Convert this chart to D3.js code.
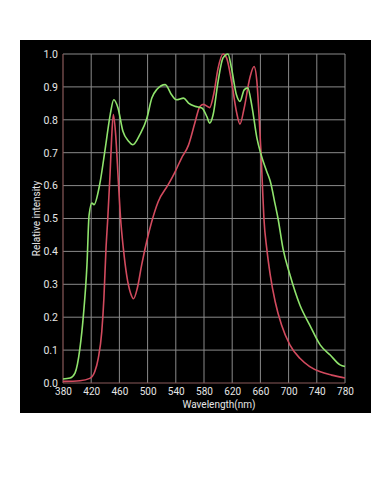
<!DOCTYPE html>
<html>
<head>
<meta charset="utf-8">
<script src="https://cdn.jsdelivr.net/npm/d3@7"></script>
<style>
  body { margin: 0; background: #fff; }
  svg text { font-family: Roboto, "Noto Sans", sans-serif; fill: #e6e6e6; }
</style>
</head>
<body>
<div id="chart"></div>
<script>
// ---- data ----
const xTicks = [380, 420, 460, 500, 540, 580, 620, 660, 700, 740, 780]
const yTicks = [0, 0.1, 0.2, 0.3, 0.4, 0.5, 0.6, 0.7, 0.8, 0.9, 1.0]

const greenNm = [380, 390, 397, 404, 409, 414, 417, 421, 424, 432, 440, 447, 452, 458, 465, 473, 479, 489, 499, 506, 513, 525, 534, 541, 551, 558, 567, 577, 584, 588, 593, 600, 607, 614, 619, 626, 631, 637, 642, 648, 655, 661, 669, 674, 681, 685, 692, 702, 716, 730, 745, 759, 773, 780]
const greenVal = [0.012, 0.015, 0.03, 0.105, 0.207, 0.359, 0.51, 0.547, 0.542, 0.603, 0.714, 0.816, 0.861, 0.836, 0.765, 0.735, 0.724, 0.755, 0.805, 0.866, 0.892, 0.907, 0.876, 0.861, 0.866, 0.851, 0.841, 0.836, 0.81, 0.79, 0.816, 0.917, 0.988, 1.0, 0.957, 0.876, 0.856, 0.891, 0.897, 0.841, 0.745, 0.694, 0.643, 0.613, 0.542, 0.5, 0.409, 0.328, 0.237, 0.176, 0.115, 0.085, 0.055, 0.05]

const redNm = [380, 404, 418, 425, 430, 435, 438, 441, 443.5, 446.7, 449, 451.4, 454.7, 458.5, 461.5, 465.6, 470.3, 476, 480, 485.4, 491.6, 498.7, 505.8, 515, 529, 539, 548, 558, 567, 574, 579, 588, 594, 600, 607, 612, 619, 626, 631, 637, 645, 651, 655, 658, 661, 663, 665, 669, 674, 681, 690, 702, 716, 730, 745, 761, 780]
const redVal = [0.005, 0.007, 0.014, 0.034, 0.075, 0.156, 0.257, 0.409, 0.5, 0.633, 0.745, 0.816, 0.755, 0.613, 0.505, 0.409, 0.328, 0.272, 0.256, 0.288, 0.359, 0.43, 0.49, 0.551, 0.602, 0.642, 0.683, 0.723, 0.79, 0.84, 0.847, 0.837, 0.88, 0.957, 1.0, 0.988, 0.917, 0.825, 0.787, 0.836, 0.927, 0.962, 0.917, 0.816, 0.694, 0.593, 0.5, 0.409, 0.328, 0.247, 0.176, 0.115, 0.075, 0.05, 0.034, 0.024, 0.015]

const conf = {
    width: 391, height: 500,
    panel: {x: 20, y: 40, w: 351, h: 373},
    plot: {left: 63, right: 345, top: 54, bottom: 383}
}

let svg = d3.select("#chart").append("svg")
    .attr("width", conf.width)
    .attr("height", conf.height)

svg.append("rect")
    .attr("x", conf.panel.x).attr("y", conf.panel.y)
    .attr("width", conf.panel.w).attr("height", conf.panel.h)
    .attr("fill", "#000")

let x = d3.scaleLinear().domain([380, 780]).range([conf.plot.left, conf.plot.right])
let y = d3.scaleLinear().domain([0, 1]).range([conf.plot.bottom, conf.plot.top])

// grid
let grid = svg.append("g").attr("class", "grid")
grid.selectAll("line.v").data(xTicks.slice(1)).join("line")
    .attr("x1", d => x(d)).attr("x2", d => x(d))
    .attr("y1", conf.plot.top).attr("y2", conf.plot.bottom)
    .attr("stroke", "#8a8a8a").attr("stroke-width", 1)
grid.selectAll("line.h").data(yTicks.slice(1)).join("line")
    .attr("x1", conf.plot.left).attr("x2", conf.plot.right)
    .attr("y1", d => y(d)).attr("y2", d => y(d))
    .attr("stroke", "#8a8a8a").attr("stroke-width", 1)

// axis lines (brownish)
svg.append("line")
    .attr("x1", conf.plot.left).attr("x2", conf.plot.left)
    .attr("y1", conf.plot.top).attr("y2", conf.plot.bottom)
    .attr("stroke", "#8a5a5a").attr("stroke-width", 1.2)
svg.append("line")
    .attr("x1", conf.plot.left).attr("x2", conf.plot.right)
    .attr("y1", conf.plot.bottom).attr("y2", conf.plot.bottom)
    .attr("stroke", "#8a5a5a").attr("stroke-width", 1.2)

// tick labels
let xAxis = d3.axisBottom(x).tickValues(xTicks).tickSize(0).tickPadding(5).tickFormat(d3.format("d"))
let gx = svg.append("g").attr("transform", "translate(0," + conf.plot.bottom + ")").call(xAxis)
gx.select(".domain").remove()
gx.selectAll("text").attr("font-size", 10).attr("fill", "#e6e6e6")

let yAxis = d3.axisLeft(y).tickValues(yTicks).tickSize(0).tickPadding(5).tickFormat(d3.format(".1f"))
let gy = svg.append("g").attr("transform", "translate(" + conf.plot.left + ",0)").call(yAxis)
gy.select(".domain").remove()
gy.selectAll("text").attr("font-size", 10.5).attr("fill", "#e6e6e6")

svg.append("text")
    .attr("x", 219)
    .attr("y", 408)
    .attr("text-anchor", "middle")
    .attr("font-size", 10)
    .text("Wavelength(nm)")

svg.append("text")
    .attr("transform", "translate(40," + ((conf.plot.top + conf.plot.bottom) / 2) + ") rotate(-90)")
    .attr("text-anchor", "middle")
    .attr("font-size", 10)
    .text("Relative intensity")

// spectra
let line = d3.line()
    .curve(d3.curveMonotoneX)
    .x(d => x(d[0]))
    .y(d => y(d[1]))

let green = greenNm.map((d, i) => [d, greenVal[i]])
let red = redNm.map((d, i) => [d, redVal[i]])

svg.append("path").datum(red)
    .attr("d", line).attr("fill", "none")
    .attr("stroke", "#d24a5e").attr("stroke-width", 1.6)
svg.append("path").datum(green)
    .attr("d", line).attr("fill", "none")
    .attr("stroke", "#8fe36c").attr("stroke-width", 1.6)
</script>
</body>
</html>
